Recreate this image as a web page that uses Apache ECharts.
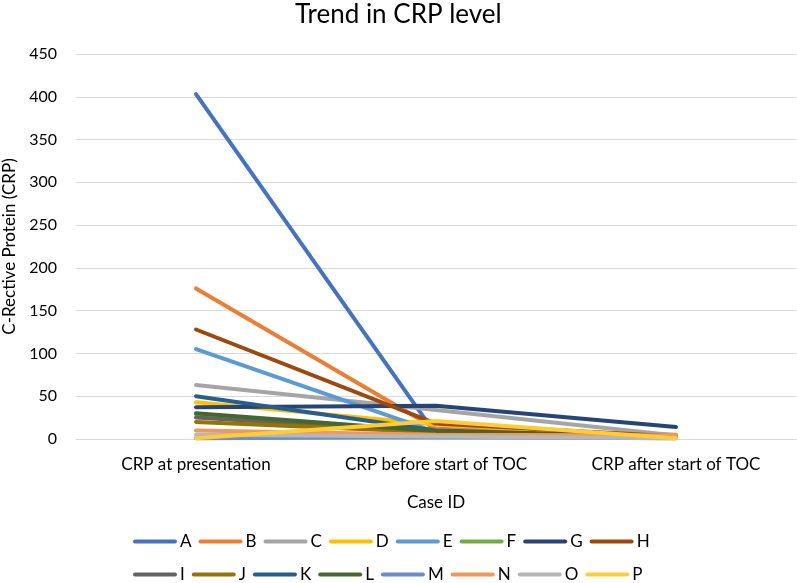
<!DOCTYPE html>
<html>
<head>
<meta charset="utf-8">
<script src="https://cdn.jsdelivr.net/npm/echarts@6/dist/echarts.min.js"></script>
<style>html,body{margin:0;padding:0;background:#fff}#c{width:797px;height:583px}</style>
</head>
<body>
<div id="c"></div>
<script>
const categories = ['CRP at presentation', 'CRP before start of TOC', 'CRP after start of TOC'];
const caseIds = ['A','B','C','D','E','F','G','H','I','J','K','L','M','N','O','P'];
const A = [403, 5, 2];
const B = [176, 12, 5];
const C = [63, 34, 4];
const D = [43, 17, 2];
const E = [105, 8, 2];
const F = [29, 7, 2];
const G = [37, 39, 14];
const H = [128, 18, 3];
const I = [25, 8, 2];
const J = [20, 8, 2];
const K = [50, 10, 2];
const L = [30, 9, 2];
const M = [1, 2, 1];
const N = [10, 5, 4];
const O = [5, 3, 1];
const P = [1, 21, 1];
const seriesValues = [A,B,C,D,E,F,G,H,I,J,K,L,M,N,O,P];
const colors = ['#4472C4','#ED7D31','#A5A5A5','#FFC000','#5B9BD5','#70AD47','#264478','#9E480E','#636363','#997300','#255E91','#43682B','#698ED0','#F1975A','#B7B7B7','#FFCD33'];
const yTicks = {min: 0, max: 450, interval: 50};

const font = 'Lato, "Open Sans", sans-serif';
const chart = echarts.init(document.getElementById('c'), null, {renderer: 'canvas'});
const legendCommon = {
  orient: 'horizontal',
  itemWidth: 44,
  itemHeight: 12,
  itemGap: 7,
  icon: 'path://M2,0 L42,0 A2,2 0 0 1 42,4 L2,4 A2,2 0 0 1 2,0 Z',
  textStyle: {fontFamily: font, fontSize: 17, color: '#000', width: 12, padding: [0,0,0,-2]}
};
chart.setOption({
  animation: false,
  color: colors,
  title: {
    text: 'Trend in CRP level',
    left: 290, top: -3,
    textStyle: {fontFamily: font, fontSize: 26, fontWeight: 'normal', color: '#000'}
  },
  legend: [
    Object.assign({}, legendCommon, {data: caseIds.slice(0, 8), left: 128, top: 528}),
    Object.assign({}, legendCommon, {data: caseIds.slice(8), left: 128, top: 561})
  ],
  grid: {left: 76, right: 1, top: 54, bottom: 144, containLabel: false, outerBoundsMode: 'none'},
  xAxis: {
    type: 'category',
    data: categories,
    boundaryGap: true,
    name: 'Case ID',
    nameLocation: 'middle',
    nameGap: 55,
    nameTextStyle: {fontFamily: font, fontSize: 17, color: '#000'},
    axisLine: {show: true, lineStyle: {color: '#D9D9D9', width: 1}},
    axisTick: {show: false},
    axisLabel: {fontFamily: font, fontSize: 17, color: '#000', margin: 17}
  },
  yAxis: {
    type: 'value',
    min: yTicks.min, max: yTicks.max, interval: yTicks.interval,
    name: 'C-Rective Protein (CRP)',
    nameLocation: 'middle',
    nameGap: 55,
    nameRotate: 90,
    nameTextStyle: {fontFamily: font, fontSize: 17, color: '#000'},
    axisLine: {show: false},
    axisTick: {show: false},
    axisLabel: {fontFamily: font, fontSize: 16, color: '#000', margin: 19},
    splitLine: {lineStyle: {color: '#D9D9D9', width: 1}}
  },
  series: caseIds.map((id, i) => ({
    name: id,
    type: 'line',
    data: seriesValues[i],
    symbol: 'none',
    lineStyle: {width: 4, color: colors[i], cap: 'round'},
    itemStyle: {color: colors[i]}
  }))
});
</script>
</body>
</html>
